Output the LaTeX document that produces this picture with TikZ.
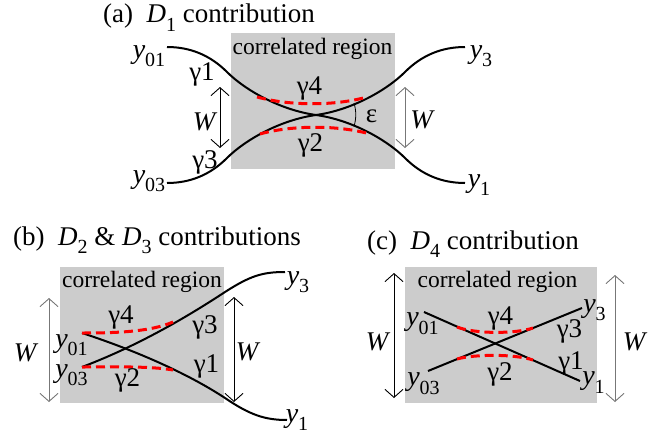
\documentclass[tikz,border=0pt]{standalone}
\usepackage{fontspec}
\setmainfont{Liberation Serif}
\usetikzlibrary{arrows.meta}
\definecolor{regiongray}{HTML}{CCCCCC}
\definecolor{arrowgray}{HTML}{777777}
\newcommand\subsz{\fontsize{20}{22}\selectfont}
\newcommand\vsb[2]{\textit{#1}\raisebox{-0.3em}{\subsz #2}}
\begin{document}
\begin{tikzpicture}[x=1pt,y=-1pt,
  region/.style={fill=regiongray, draw=none},
  curve/.style={line width=2pt, black},
  corr/.style={red, line width=3pt, dash pattern=on 9pt off 5pt},
  warrow/.style={line width=0.9pt, {Straight Barb[length=8pt,width=18pt]}-{Straight Barb[length=8pt,width=18pt]}},
  title/.style={font=\fontsize{27}{30}\selectfont, anchor=base west, inner sep=0},
  regtxt/.style={font=\fontsize{23.5}{26}\selectfont, anchor=base, inner sep=0},
  var/.style={font=\fontsize{28}{30}\selectfont, inner sep=0},
  glbl/.style={font=\fontsize{27}{30}\selectfont, inner sep=0},
  wlbl/.style={font=\fontsize{27}{30}\selectfont\itshape, inner sep=0},
]
\useasboundingbox (0,0) rectangle (662,439);

% ---------------- (a) ----------------
\fill[region] (231,33) rectangle (395,169);
\node[title] (ta) at (103,23) {(a)\hspace{0.5em}\vsb{D}{1} contribution};
\node[regtxt] (ca) at (312.5,54) {correlated region};
\coordinate (a01) at (167,47);
\coordinate (a03) at (167,183);
\coordinate (a3) at (465,47);
\coordinate (a1) at (465,183);
\coordinate (ax) at (316,115);
\draw[curve] (a01) .. controls (190,47) and (210,55) .. (227,72) .. controls (245,90) and (280,110) .. (ax) .. controls (352,120) and (387,140) .. (405,158) .. controls (422,175) and (442,183) .. (a1);
\draw[curve] (a03) .. controls (190,183) and (210,175) .. (227,158) .. controls (245,140) and (280,120) .. (ax) .. controls (352,110) and (387,90) .. (405,72) .. controls (422,55) and (442,47) .. (a3);
\coordinate (a4l) at (257,97);
\coordinate (a4r) at (367,97);
\coordinate (a2l) at (260,134);
\coordinate (a2r) at (370,134);
\draw[corr] (a4l) .. controls (290,106) and (335,106) .. (a4r);
\draw[corr] (a2l) .. controls (292,125) and (338,125) .. (a2r);
\coordinate (aeps) at (354,103);
\draw[line width=0.8pt] (aeps) arc[start angle=-17, end angle=17, radius=40];
\node[var] (la01) at (149,56) {\vsb{y}{01}};
\node[var] (la03) at (149,181) {\vsb{y}{03}};
\node[var] (la3) at (481,56) {\vsb{y}{3}};
\node[var] (la1) at (479,185) {\vsb{y}{1}};
\node[glbl] (ga1) at (202,74) {γ1};
\node[glbl] (ga3) at (205,162) {γ3};
\node[glbl] (ga4) at (309.5,88) {γ4};
\node[glbl] (ga2) at (310.5,145) {γ2};
\node[glbl] (geps) at (371.5,116.5) {ε};
\coordinate (aWlt) at (220,87);
\coordinate (aWlb) at (220,148);
\coordinate (aWrt) at (405,87);
\coordinate (aWrb) at (405,148);
\draw[warrow] (aWlt) -- (aWlb);
\draw[warrow, arrowgray] (aWrt) -- (aWrb);
\node[wlbl] (wa1) at (204,122) {W};
\node[wlbl] (wa2) at (421.5,120) {W};

% ---------------- (b) ----------------
\fill[region] (60,267) rectangle (224,403);
\node[title] (tb) at (13,245) {(b)\hspace{0.5em}\vsb{D}{2} \& \vsb{D}{3} contributions};
\node[regtxt] (cb) at (142,287) {correlated region};
\coordinate (b01) at (82,333);
\coordinate (b03) at (82,367);
\coordinate (b1) at (287,420);
\coordinate (b3) at (285,272);
\draw[curve] (b01) .. controls (140,352) and (190,375) .. (225,398) .. controls (250,415) and (265,420) .. (b1);
\draw[curve] (b03) .. controls (140,345) and (190,315) .. (225,292) .. controls (250,276) and (262,272) .. (b3);
\coordinate (b4r) at (173,322);
\coordinate (b2r) at (173,370);
\draw[corr] (b01) .. controls (115,333) and (150,332) .. (b4r);
\draw[corr] (b03) .. controls (115,367) and (150,366) .. (b2r);
\node[var] (lb01) at (71.5,345) {\vsb{y}{01}};
\node[var] (lb03) at (71.5,375) {\vsb{y}{03}};
\node[var] (lb3) at (298,282) {\vsb{y}{3}};
\node[var] (lb1) at (297,420) {\vsb{y}{1}};
\node[glbl] (gb4) at (121,317) {γ4};
\node[glbl] (gb2) at (127.5,380) {γ2};
\node[glbl] (gb3) at (205,327) {γ3};
\node[glbl] (gb1) at (206.5,366) {γ1};
\coordinate (bWlt) at (49,298);
\coordinate (bWlb) at (49,402);
\coordinate (bWrt) at (234,297);
\coordinate (bWrb) at (234,402);
\draw[warrow, arrowgray] (bWlt) -- (bWlb);
\draw[warrow] (bWrt) -- (bWrb);
\node[wlbl] (wb1) at (25,353) {W};
\node[wlbl] (wb2) at (247,352) {W};

% ---------------- (c) ----------------
\fill[region] (405,267) rectangle (597,403);
\node[title] (tc) at (367,249) {(c)\hspace{0.5em}\vsb{D}{4} contribution};
\node[regtxt] (cc) at (497.5,287) {correlated region};
\coordinate (c01) at (424,312);
\coordinate (c1) at (580,381);
\coordinate (c03) at (428,371);
\coordinate (c3) at (582,308);
\draw[curve] (c01) -- (c1);
\draw[curve] (c03) -- (c3);
\coordinate (c4l) at (457,327);
\coordinate (c4r) at (533,328);
\coordinate (c2l) at (457,359);
\coordinate (c2r) at (533,360);
\draw[corr] (c4l) .. controls (475,334) and (515,334) .. (c4r);
\draw[corr] (c2l) .. controls (475,354) and (515,354) .. (c2r);
\node[var] (lc01) at (422.5,323.5) {\vsb{y}{01}};
\node[var] (lc03) at (423.5,383.5) {\vsb{y}{03}};
\node[var] (lc3) at (594.5,310) {\vsb{y}{3}};
\node[var] (lc1) at (593.5,382.5) {\vsb{y}{1}};
\node[glbl] (gc4) at (500.5,318) {γ4};
\node[glbl] (gc2) at (500,374) {γ2};
\node[glbl] (gc3) at (569.5,331) {γ3};
\node[glbl] (gc1) at (571,363) {γ1};
\coordinate (cWlt) at (394,273);
\coordinate (cWlb) at (394,398);
\coordinate (cWrt) at (615,275);
\coordinate (cWrb) at (615,402);
\draw[warrow] (cWlt) -- (cWlb);
\draw[warrow, arrowgray] (cWrt) -- (cWrb);
\node[wlbl] (wc1) at (377,342) {W};
\node[wlbl] (wc2) at (634,342) {W};
\end{tikzpicture}
\end{document}
